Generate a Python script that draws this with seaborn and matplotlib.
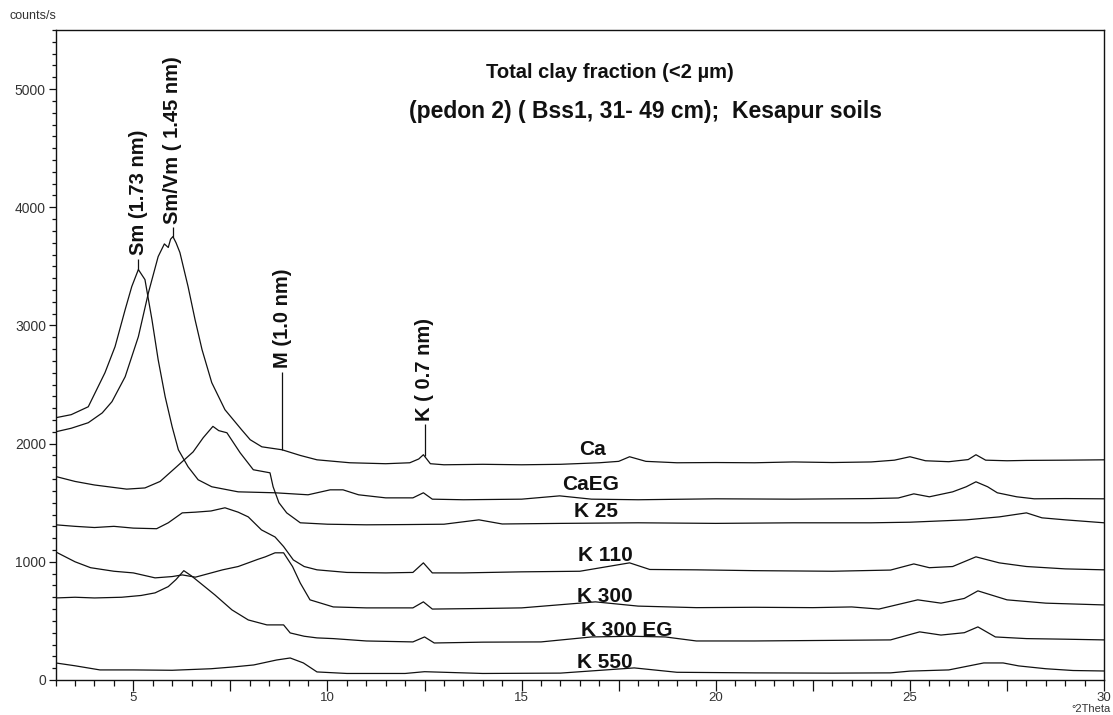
import numpy as np
import pandas as pd
import matplotlib
matplotlib.use("Agg")
import matplotlib.pyplot as plt
from matplotlib.ticker import MultipleLocator, FuncFormatter
import seaborn as sns

# ---------------- data ----------------
ca_x = [3.0, 3.4, 3.84, 4.2, 4.45, 4.79, 5.13, 5.39, 5.64, 5.8, 5.9, 5.96, 6.02, 6.1, 6.2, 6.41, 6.59, 6.77,
        7.02, 7.36, 7.79, 8.01, 8.31, 8.83, 9.3, 9.73, 10.58, 11.5, 12.12, 12.35, 12.47, 12.65, 13.0, 14, 15,
        16, 17, 17.5, 17.78, 18.2, 19, 20, 21, 22, 23, 24, 24.6, 25.0, 25.4, 26.0, 26.5, 26.7, 26.95, 27.5,
        28, 29, 30]
ca_y = [2100, 2130, 2177, 2260, 2355, 2566, 2905, 3278, 3583, 3690, 3660, 3730, 3752, 3700, 3617, 3329, 3049,
        2795, 2516, 2287, 2117, 2033, 1973, 1948, 1900, 1863, 1838, 1830, 1838, 1870, 1906, 1830, 1821, 1825,
        1821, 1825, 1838, 1850, 1889, 1850, 1838, 1840, 1838, 1845, 1840, 1845, 1860, 1889, 1855, 1847, 1865,
        1906, 1860, 1855, 1858, 1860, 1863]

caeg_x = [3.0, 3.4, 3.84, 4.27, 4.53, 4.79, 4.96, 5.13, 5.30, 5.48, 5.64, 5.82, 6.0, 6.16, 6.41, 6.67, 7.02,
          7.7, 8.65, 9.5, 10.07, 10.4, 10.8, 11.5, 12.2, 12.47, 12.7, 13.5, 15, 15.98, 16.8, 18, 20, 22, 24,
          24.7, 25.1, 25.5, 26.1, 26.45, 26.7, 27.0, 27.25, 27.75, 28.2, 29, 30]
caeg_y = [2219, 2245, 2312, 2600, 2821, 3134, 3329, 3473, 3388, 3049, 2710, 2397, 2143, 1948, 1804, 1694,
          1635, 1592, 1584, 1567, 1609, 1609, 1567, 1541, 1541, 1584, 1530, 1525, 1530, 1558, 1530, 1525,
          1533, 1530, 1535, 1540, 1575, 1550, 1592, 1635, 1677, 1635, 1584, 1550, 1533, 1535, 1533]

k25_x = [3.0, 3.5, 4.0, 4.83, 5.3, 5.69, 6.12, 6.54, 6.8, 7.05, 7.2, 7.41, 7.75, 8.09, 8.52, 8.6, 8.75, 8.95,
         9.3, 10, 11, 12, 13, 13.9, 14.5, 16, 18, 20, 22, 24, 25, 26.45, 27.3, 28.0, 28.4, 29.0, 30]
k25_y = [1722, 1680, 1650, 1615, 1625, 1680, 1806, 1930, 2050, 2146, 2110, 2092, 1923, 1779, 1753, 1635, 1500,
         1414, 1330, 1318, 1313, 1315, 1318, 1355, 1320, 1325, 1330, 1325, 1330, 1330, 1335, 1355, 1380, 1414,
         1372, 1355, 1330]

k110_x = [3.0, 3.5, 4.0, 4.5, 5.0, 5.6, 5.9, 6.26, 6.6, 7.0, 7.36, 7.7, 7.96, 8.3, 8.65, 8.87, 9.12, 9.4, 9.73,
          10.5, 11.5, 12.2, 12.47, 12.7, 13.5, 15, 16.5, 17.78, 18.3, 19.5, 21, 23, 24.5, 25.1, 25.5, 26.1,
          26.7, 27.3, 28, 29, 30]
k110_y = [1313, 1300, 1290, 1300, 1285, 1280, 1330, 1414, 1420, 1430, 1457, 1420, 1380, 1270, 1210, 1129, 1016,
          960, 932, 910, 906, 910, 991, 906, 906, 915, 920, 991, 935, 932, 925, 920, 930, 982, 950, 960, 1042,
          991, 960, 940, 932]

k300_x = [3.0, 3.5, 3.9, 4.5, 5.0, 5.56, 6.0, 6.26, 6.6, 7.3, 7.7, 7.96, 8.2, 8.4, 8.65, 8.87, 9.1, 9.3, 9.55,
          10.15, 11, 12.2, 12.47, 12.7, 14, 15, 16.9, 18, 19.5, 21, 22.5, 23.5, 24.2, 25.2, 25.8, 26.4, 26.75,
          27.5, 28.5, 30]
k300_y = [1084, 1000, 950, 920, 906, 864, 875, 889, 870, 932, 960, 991, 1020, 1042, 1076, 1076, 960, 820, 678,
          618, 610, 610, 661, 600, 605, 610, 661, 625, 612, 615, 612, 618, 600, 678, 650, 690, 754, 678, 650,
          635]

k300eg_x = [3.0, 3.5, 4.0, 4.7, 5.2, 5.56, 5.9, 6.1, 6.3, 6.5, 6.8, 7.1, 7.54, 7.96, 8.44, 8.87, 9.04, 9.4,
            9.73, 10.15, 11, 12.2, 12.5, 12.75, 14, 15.5, 16.8, 17.8, 18.7, 19.5, 21, 23, 24.5, 25.25, 25.8,
            26.4, 26.75, 27.2, 28, 29, 30]
k300eg_y = [694, 700, 694, 700, 715, 737, 790, 850, 925, 880, 800, 720, 593, 508, 466, 466, 398, 370, 356, 350,
            330, 322, 364, 313, 320, 322, 364, 370, 364, 330, 330, 335, 339, 407, 380, 400, 449, 364, 350, 345,
            339]

k550_x = [3.0, 3.5, 4.14, 5.0, 6.0, 7.0, 7.57, 8.1, 8.69, 9.04, 9.38, 9.73, 10.5, 12, 12.5, 14, 16, 17.9, 19,
          21, 23, 24.5, 25, 26, 26.9, 27.4, 27.8, 28.5, 29.2, 30]
k550_y = [144, 120, 85, 85, 82, 95, 110, 127, 169, 186, 144, 68, 55, 55, 70, 55, 58, 102, 65, 60, 58, 60, 75,
          85, 144, 144, 119, 95, 80, 76]

series_names = ["Ca", "CaEG", "K 25", "K 110", "K 300", "K 300 EG", "K 550"]
series_x = [ca_x, caeg_x, k25_x, k110_x, k300_x, k300eg_x, k550_x]
series_y = [ca_y, caeg_y, k25_y, k110_y, k300_y, k300eg_y, k550_y]
# label anchor positions (data coordinates)
label_x = [16.82, 16.77, 16.92, 17.15, 17.15, 17.7, 17.15]
label_y = [1948, 1652, 1423, 1050, 703, 415, 152]

# peak annotations: label, 2theta position, series it marks
peak_labels = ["Sm (1.73 nm)", "Sm/Vm ( 1.45 nm)", "M (1.0 nm)", "K ( 0.7 nm)"]
peak_x = [5.13, 6.02, 8.83, 12.5]
peak_series = [1, 0, 0, 0]
peak_line_len = [90, 80, 660, 270]

title1 = "Total clay fraction (<2 µm)"
title2 = "(pedon 2) ( Bss1, 31- 49 cm);  Kesapur soils"

# ---------------- figure ----------------
sns.set_style("ticks")
plt.rcParams["font.family"] = ["Liberation Sans", "DejaVu Sans"]

fig = plt.figure(figsize=(11.13, 7.15), dpi=100)
ax = fig.add_axes([0.050, 0.049, 0.942, 0.909])

for name, xs, ys in zip(series_names, series_x, series_y):
    df = pd.DataFrame({"two_theta": xs, "counts": ys})
    sns.lineplot(data=df, x="two_theta", y="counts", ax=ax, color="#111111",
                 linewidth=0.9, estimator=None, sort=False)

for name, lx, ly in zip(series_names, label_x, label_y):
    ax.text(lx, ly, name, ha="center", va="center", fontsize=15,
            fontweight="bold", color="#111111")

for lab, px, si, ln in zip(peak_labels, peak_x, peak_series, peak_line_len):
    base = float(np.interp(px, series_x[si], series_y[si]))
    ax.vlines(px, base, base + ln, color="#111111", linewidth=0.9)
    ax.text(px, base + ln + 30, lab, rotation=90, ha="center", va="bottom",
            fontsize=14.5, fontweight="bold", color="#111111")

ax.text(17.27, 5140, title1, ha="center", va="center", fontsize=14.5,
        fontweight="bold", color="#111111")
ax.text(18.2, 4810, title2, ha="center", va="center", fontsize=16.5,
        fontweight="bold", color="#111111")

ax.set_xlim(3, 30)
ax.set_ylim(0, 5500)
ax.set_xlabel("")
ax.set_ylabel("")

ax.xaxis.set_major_locator(MultipleLocator(2.5))
ax.xaxis.set_minor_locator(MultipleLocator(0.5))
ax.xaxis.set_major_formatter(FuncFormatter(
    lambda v, p: f"{int(round(v))}" if abs(v / 5 - round(v / 5)) < 1e-6 else ""))
ax.yaxis.set_major_locator(MultipleLocator(1000))
ax.yaxis.set_minor_locator(MultipleLocator(100))

ax.tick_params(axis="x", which="major", length=8, width=0.9, labelsize=9.5,
               colors="#111111", labelcolor="#333333", pad=1)
ax.tick_params(axis="x", which="minor", length=4, width=0.9, colors="#111111")
ax.tick_params(axis="y", which="major", length=5, width=0.9, labelsize=10,
               colors="#111111", labelcolor="#333333", pad=2)
ax.tick_params(axis="y", which="minor", length=3, width=0.9, colors="#111111")

for sp in ax.spines.values():
    sp.set_visible(True)
    sp.set_color("#111111")
    sp.set_linewidth(1.0)

fig.text(9 / 1113, 1 - 16 / 715, "counts/s", ha="left", va="center",
         fontsize=9, color="#333333")
fig.text(1111 / 1113, 1 - 714 / 715, "°2Theta", ha="right", va="bottom",
         fontsize=8, color="#333333")

fig.savefig("out.png", dpi=100)
